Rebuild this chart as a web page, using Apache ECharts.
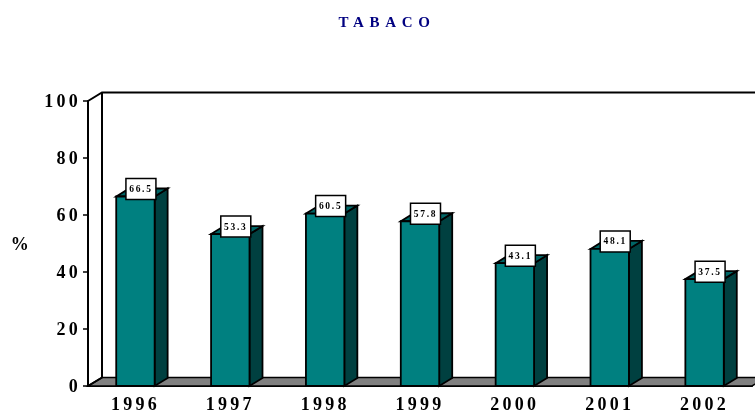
<!DOCTYPE html>
<html>
<head>
<meta charset="utf-8">
<style>
  html, body { margin: 0; padding: 0; background: #fff; }
  #chart { width: 755px; height: 413px; will-change: transform; }
  /* the original has wide letter spacing on all text */
  #chart text { letter-spacing: .18em; }
  #chart text[fill="#000080"], #chart text[style*="#000080"] { letter-spacing: .38em; }
</style>
<script src="https://cdn.jsdelivr.net/npm/echarts@6/dist/echarts.min.js"></script>
</head>
<body>
<div id="chart"></div>
<script>
const years = ['1996', '1997', '1998', '1999', '2000', '2001', '2002'];
const values = [66.5, 53.3, 60.5, 57.8, 43.1, 48.1, 37.5];
const yTicks = [0, 20, 40, 60, 80, 100];

const FONT = '"Liberation Serif", serif';
// depth of the fake 3D
const WALL_DX = 14;
const WALL_DY = 8.5;
const DX = 13;
const DY = 8;

// back wall and floor
function renderWalls(params, api) {
    const c = params.coordSys;
    const left = c.x, right = c.x + c.width, top = c.y, bottom = c.y + c.height;
    const line = { stroke: '#000', lineWidth: 2, fill: null };
    return {
        type: 'group',
        children: [
            {
                type: 'polygon',
                shape: { points: [[left, bottom], [left + WALL_DX, bottom - WALL_DY], [right + WALL_DX, bottom - WALL_DY], [right, bottom]] },
                style: { fill: '#808080', stroke: '#000', lineWidth: 1.5 }
            },
            {
                type: 'polyline',
                shape: { points: [[left, top], [left + WALL_DX, top - WALL_DY], [right + WALL_DX, top - WALL_DY]] },
                style: line
            },
            {
                type: 'polyline',
                shape: { points: [[left + WALL_DX, top - WALL_DY], [left + WALL_DX, bottom - WALL_DY], [left, bottom]] },
                style: line
            }
        ]
    };
}

function renderBar(params, api) {
    const p = api.coord([api.value(0), api.value(1)]);
    const base = api.coord([api.value(0), 0]);
    const w = api.size([1, 0])[0] * 0.405;
    const x0 = p[0] - w / 2, x1 = p[0] + w / 2;
    const border = { stroke: '#000', lineWidth: 1.8 };
    return {
        type: 'group',
        children: [
            {
                type: 'polygon',
                shape: { points: [[x1, p[1]], [x1 + DX, p[1] - DY], [x1 + DX, base[1] - DY], [x1, base[1]]] },
                style: Object.assign({ fill: '#004040' }, border)
            },
            {
                type: 'polygon',
                shape: { points: [[x0, p[1]], [x0 + DX, p[1] - DY], [x1 + DX, p[1] - DY], [x1, p[1]]] },
                style: Object.assign({ fill: '#006666' }, border)
            },
            {
                type: 'rect',
                shape: { x: x0, y: p[1], width: w, height: base[1] - p[1] },
                style: Object.assign({ fill: '#008080' }, border)
            },
            // value box
            {
                type: 'rect',
                shape: { x: p[0] - 9.5, y: p[1] - 18, width: 30, height: 21 },
                style: { fill: '#fff', stroke: '#000', lineWidth: 1.5 }
            },
            {
                type: 'text',
                x: p[0] + 5.5,
                y: p[1] - 7.5,
                style: {
                    text: api.value(1).toFixed(1),
                    fill: '#000',
                    font: 'bold 9.5px ' + FONT,
                    align: 'center',
                    verticalAlign: 'middle'
                }
            }
        ]
    };
}

const E = echarts.init(document.getElementById('chart'), null, { renderer: 'svg' });
E.setOption({
    animation: false,
    title: {
        text: 'TABACO',
        left: 382,
        top: 9,
        textAlign: 'center',
        textStyle: { fontFamily: FONT, fontSize: 15, fontWeight: 'bold', color: '#000080' }
    },
    grid: { left: 88, right: 3, top: 101, bottom: 27, outerBoundsMode: 'none' },
    xAxis: {
        type: 'category',
        data: years,
        axisLine: { lineStyle: { color: '#000', width: 2 } },
        axisTick: { length: 4, alignWithLabel: false, lineStyle: { color: '#000', width: 1.5 } },
        axisLabel: { fontFamily: FONT, fontSize: 18, lineHeight: 14, fontWeight: 'bold', color: '#000', margin: 11, interval: 0 }
    },
    yAxis: {
        type: 'value',
        min: 0,
        max: 100,
        interval: 20,
        name: '%',
        nameLocation: 'middle',
        nameGap: 56,
        nameRotate: 0,
        nameTextStyle: { fontFamily: FONT, fontSize: 18, fontWeight: 'bold', color: '#000' },
        splitLine: { show: false },
        axisLine: { show: true, lineStyle: { color: '#000', width: 2 } },
        axisTick: { show: true, length: 5, lineStyle: { color: '#000', width: 1.5 } },
        axisLabel: {
            fontFamily: FONT, fontSize: 18, fontWeight: 'bold', color: '#000', margin: 7,
            customValues: yTicks
        }
    },
    series: [
        {
            type: 'custom',
            name: 'walls',
            z: 1,
            silent: true,
            clip: false,
            renderItem: renderWalls,
            data: [[0, 0]]
        },
        {
            type: 'custom',
            name: 'Tabaco',
            z: 3,
            clip: false,
            encode: { x: 0, y: 1 },
            renderItem: renderBar,
            data: years.map((y, i) => [i, values[i]])
        }
    ]
});
window.onresize = function () {
    E.resize();
};
</script>
</body>
</html>
